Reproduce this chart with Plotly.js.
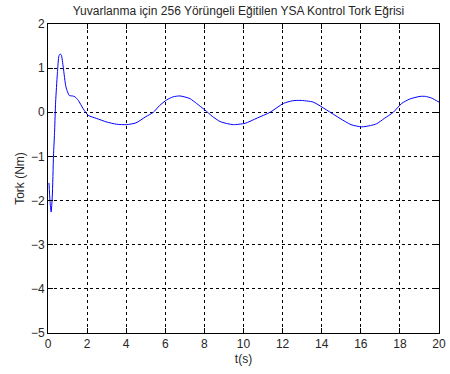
<!DOCTYPE html>
<html><head><meta charset="utf-8">
<script src="https://cdn.plot.ly/plotly-3.0.1.min.js"></script>
<style>body{margin:0;background:#fff}#c{width:450px;height:374px}</style>
</head><body><div id="c"></div>
<script>
const timeS = [0.05,0.1,0.16,0.22,0.28,0.34,0.39,0.48,0.56,0.62,0.68,0.78,0.92,1.09,1.25,1.38,1.55,1.8,2.06,2.49,3.0,3.5,4.02,4.5,5.0,5.39,5.7,6.07,6.4,6.75,7.26,7.6,8.03,8.4,8.8,9.2,9.48,10.08,10.7,11.36,12.04,12.5,12.89,13.57,14.26,14.94,15.5,16.04,16.5,16.81,17.2,17.66,18.09,18.5,19.03,19.3,19.63,20];
const torque = [-1.6,-2.0,-2.26,-1.9,-1.0,-0.4,0.23,0.88,1.28,1.32,1.3,1.02,0.57,0.38,0.37,0.35,0.27,0.08,-0.07,-0.14,-0.22,-0.27,-0.28,-0.24,-0.1,0.0,0.15,0.28,0.35,0.37,0.31,0.2,0.05,-0.09,-0.21,-0.26,-0.28,-0.25,-0.13,0.0,0.2,0.26,0.27,0.23,0.05,-0.14,-0.28,-0.33,-0.3,-0.26,-0.14,0.0,0.2,0.3,0.36,0.36,0.32,0.23];
const xTicks = [0,2,4,6,8,10,12,14,16,18,20];
const yTicks = [-5,-4,-3,-2,-1,0,1,2];

const font = {family:'"Liberation Sans", Arial, sans-serif', size:12, color:'#262626'};
const axisCommon = {
  showline:true, linecolor:'#000', linewidth:1, mirror:'ticks',
  ticks:'inside', ticklen:5, tickcolor:'#000',
  showgrid:true, gridcolor:'#000', gridwidth:1, griddash:'3px,3px',
  zeroline:false, tickfont:font
};
Plotly.newPlot('c', [{
  x: timeS, y: torque, type:'scatter', mode:'lines',
  line:{color:'#0000ff', width:1, shape:'spline', smoothing:0.6}
}], {
  width:450, height:374,
  margin:{l:48, r:11, t:24, b:41},
  paper_bgcolor:'#fff', plot_bgcolor:'#fff',
  font: font,
  title:{text:'Yuvarlanma için 256 Yörüngeli Eğitilen YSA Kontrol Tork Eğrisi', font:font, x:0.53, xanchor:'center', y:0.97, yanchor:'middle'},
  xaxis: Object.assign({}, axisCommon, {range:[0,20], tickvals:xTicks, title:{text:'t(s)', font:font, standoff:4}}),
  yaxis: Object.assign({}, axisCommon, {range:[-5,2], tickvals:yTicks, title:{text:'Tork (Nm)', font:font, standoff:3}}),
  showlegend:false
}, {staticPlot:true});
</script></body></html>
